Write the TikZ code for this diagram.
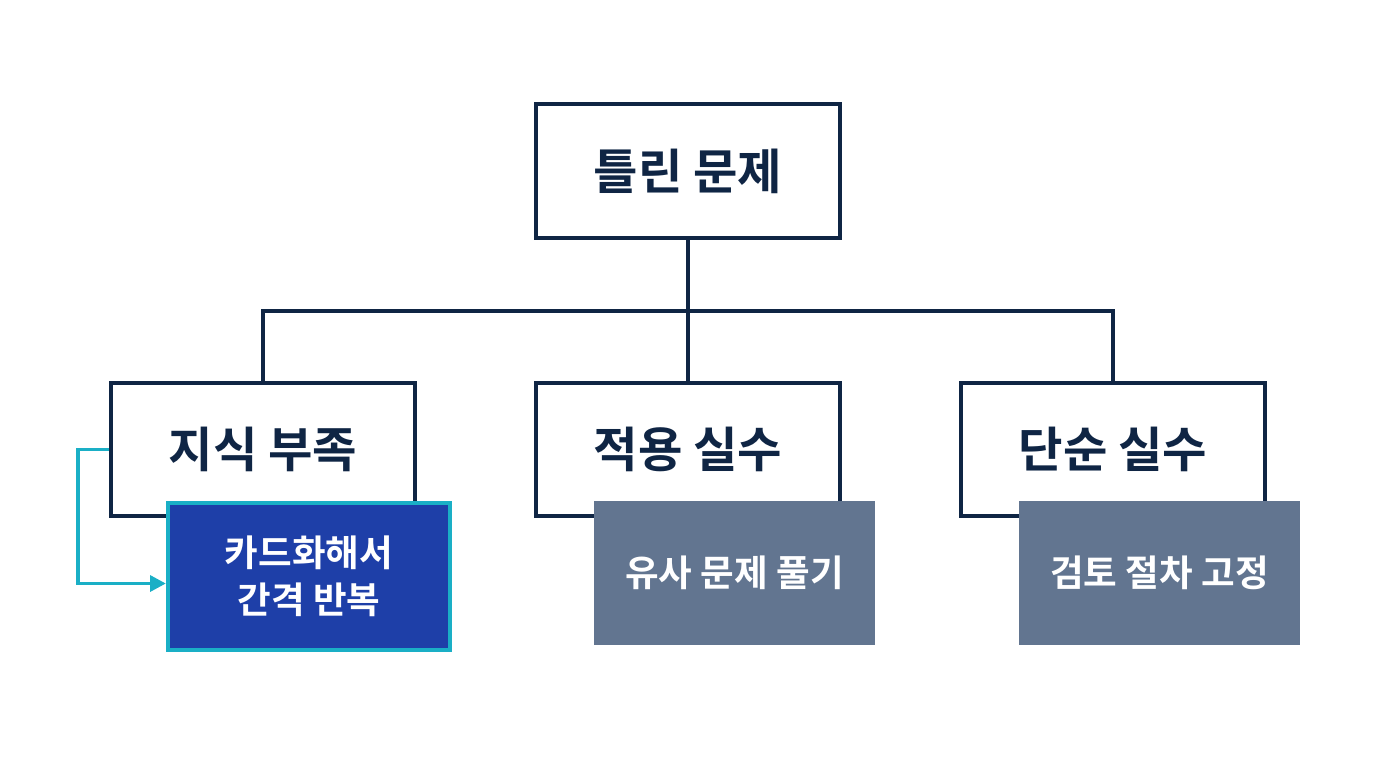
\documentclass[tikz,border=0pt]{standalone}
\usepackage{fontspec}
\setmainfont{Noto Sans CJK KR}[BoldFont={Noto Sans CJK KR Bold}]
\usetikzlibrary{arrows.meta,calc,positioning}

\definecolor{navy}{HTML}{0F2544}
\definecolor{cardblue}{HTML}{1E3FA8}
\definecolor{cardcyan}{HTML}{1AAFC6}
\definecolor{slate}{HTML}{627590}

\begin{document}
\begin{tikzpicture}[%
      >={Triangle[length=9pt,width=9pt]},  % filled tips for the loop arrow
      ]
  \tikzset{
    base/.style={align=center, inner sep=0pt, font=\bfseries},
    cause/.style={base, draw=navy, line width=2.5pt, fill=white, text=navy,
                  minimum width=6.08cm, minimum height=2.66cm,
                  font=\bfseries\fontsize{27.5}{32}\selectfont},
    remedy/.style={base, fill=slate, text=white,
                   minimum width=5.62cm, minimum height=2.88cm,
                   font=\bfseries\fontsize{20.8}{27}\selectfont},
    card/.style={remedy, fill=cardblue, draw=cardcyan, line width=2.4pt,
                 minimum width=5.64cm, minimum height=2.94cm},
    tree/.style={draw=navy, line width=2.5pt},
    loop/.style={->, draw=cardcyan, line width=2.1pt},
  }

  % Canvas
  \useasboundingbox (0,0) rectangle (27.52,-15.36);

  % Root
  \node [cause, minimum height=2.68cm] (wrong) at (13.76,-3.42) {틀린 문제};

  % Causes
  \node [cause] (know)  at ( 5.26,-8.99) {\raisebox{2pt}{지식 부족}};
  \node [cause] (apply) at (13.76,-8.99) {\raisebox{2pt}{적용 실수}};
  \node [cause] (slip)  at (22.26,-8.99) {\raisebox{2pt}{단순 실수}};

  % Tree
  \coordinate (bus) at (13.76,-6.22);
  \draw [tree] (wrong.south) -- (bus);
  \draw [tree] (bus) -| (know.north);
  \draw [tree] (bus) -- (apply.north);
  \draw [tree] (bus) -| (slip.north);

  % Remedies
  \node [card]   (cards)  at ( 6.18,-11.53) {카드화해서\\간격 반복};
  \node [remedy] (redo)   at (14.69,-11.46) {\raisebox{-3pt}{유사 문제 풀기}};
  \node [remedy] (review) at (23.19,-11.46) {\raisebox{-3pt}{검토 절차 고정}};

  % Loop back
  \draw [loop] (know.west) -- ++(-0.62,0) |- ($(cards.west)+(0,-0.14)$);

\end{tikzpicture}
\end{document}
